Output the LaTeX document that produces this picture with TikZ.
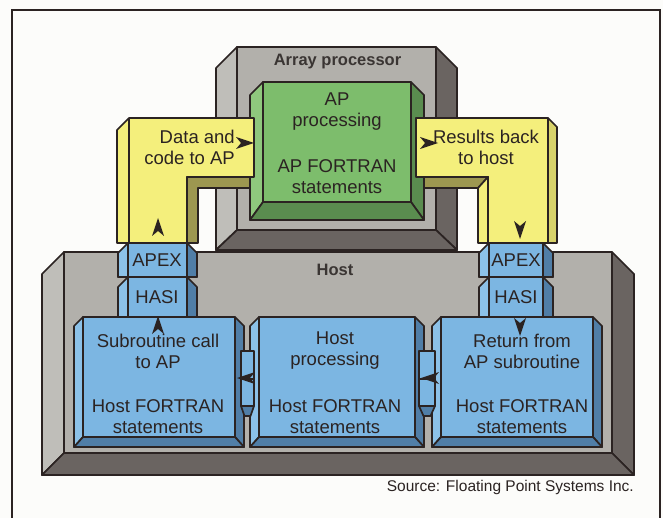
\documentclass[tikz,border=0pt]{standalone}
\usepackage{fontspec}
\setmainfont{Liberation Sans}
\usetikzlibrary{positioning}
\definecolor{fink}{HTML}{2B2322}
\definecolor{fpaper}{HTML}{FCFCFA}
\definecolor{grylite}{HTML}{BFBEB9}
\definecolor{gryface}{HTML}{B2B0AB}
\definecolor{grydark}{HTML}{6A6461}
\definecolor{grnlite}{HTML}{8FC87D}
\definecolor{grnface}{HTML}{7DBD6C}
\definecolor{grndark}{HTML}{5A8C4F}
\definecolor{blulite}{HTML}{8CC1E8}
\definecolor{bluface}{HTML}{7CB6E2}
\definecolor{bludark}{HTML}{507EA7}
\definecolor{ylwface}{HTML}{F4EF7C}
\definecolor{ylwside}{HTML}{D8D26A}
\definecolor{ylwdark}{HTML}{9D9750}
\definecolor{flabel}{HTML}{3A3533}
\tikzset{
  edge/.style={draw=fink,line width=1.7pt,line join=round},
  txt/.style={text=fink,align=center,inner sep=0pt,font=\fontsize{18.5}{21}\selectfont},
  ttl/.style={text=flabel,inner sep=0pt,font=\fontsize{16.5}{19}\selectfont\bfseries},
  src/.style={text=fink,inner sep=0pt,font=\fontsize{15.5}{18}\selectfont},
}
% bevelled slab: x0 y0 x1 y1 side bottom colour
\newcommand{\slab}[7]{%
  \filldraw[edge,fill=#7lite] (#1,#4) -- (#1,{#2+#5}) -- ({#1+#5},#2) -- ({#1+#5},{#4-#6}) -- cycle;
  \filldraw[edge,fill=#7dark] ({#3-#5},#2) -- (#3,{#2+#5}) -- (#3,#4) -- ({#3-#5},{#4-#6}) -- cycle;
  \filldraw[edge,fill=#7dark] (#1,#4) -- ({#1+#5},{#4-#6}) -- ({#3-#5},{#4-#6}) -- (#3,#4) -- cycle;
  \filldraw[edge,fill=#7face] ({#1+#5},#2) rectangle ({#3-#5},{#4-#6});
}
% arrow head: tip x, tip y, direction
\newcommand{\tipmark}[3]{%
  \fill[fink,shift={(#1,#2)},rotate=#3] (0,0) -- (-18,6) -- (-13,0) -- (-18,-6) -- cycle;
}

\begin{document}
\begin{tikzpicture}[x=1pt,y=-1pt]
  \useasboundingbox (0,0) rectangle (663,518);
  \fill[fpaper] (0,0) rectangle (663,518);
  \draw[fink,line width=2pt] (12,518) -- (12,10) -- (660,10) -- (660,518);
  % array processor
  \slab{216}{47}{457}{250}{21}{20}{gry}
  \slab{250}{82}{424}{220}{13}{18}{grn}
  % pipes
  \filldraw[edge,fill=ylwface] (117,243) -- (117,130) -- (129,118) -- (254,118) -- (254,177) -- (187,177) -- (187,243) -- cycle;
  \draw[edge] (129,118) -- (129,243);
  \filldraw[edge,fill=ylwdark] (187,177) -- (250,177) -- (250,188) -- (198,188) -- (198,243) -- (187,243) -- cycle;
  \filldraw[edge,fill=ylwface] (416,118) -- (548,118) -- (548,243) -- (488,243) -- (488,177) -- (416,177) -- cycle;
  \filldraw[edge,fill=ylwside] (548,118) -- (557,127) -- (557,243) -- (548,243) -- cycle;
  \filldraw[edge,fill=ylwdark] (424,177) -- (488,177) -- (478,188) -- (424,188) -- cycle;
  \filldraw[edge,fill=ylwface] (478,188) -- (488,177) -- (488,243) -- (478,243) -- cycle;
  % host
  \slab{42}{252}{634}{475}{22}{22}{gry}
  \slab{118}{243}{197}{277}{10}{0}{blu}
  \slab{118}{277}{197}{317}{10}{0}{blu}
  \slab{479}{243}{553}{277}{10}{0}{blu}
  \slab{479}{277}{553}{317}{10}{0}{blu}
  \slab{74}{317}{244}{447}{9}{10}{blu}
  \slab{250}{317}{424}{447}{9}{10}{blu}
  \slab{432}{317}{602}{447}{9}{10}{blu}
  % links between host boxes
  \filldraw[edge,fill=bluface] (241,351) rectangle (254,406);
  \draw[edge] (241,379) -- (254,379);
  \filldraw[edge,fill=bludark] (241,406) -- (244.5,416) -- (250.5,416) -- (254,406) -- cycle;
  \filldraw[edge,fill=bluface] (419,351) rectangle (435,406);
  \draw[edge] (419,379) -- (435,379);
  \filldraw[edge,fill=bludark] (419,406) -- (423.5,416) -- (430.5,416) -- (435,406) -- cycle;
  % arrow heads
  \tipmark{254}{143}{0}
  \tipmark{158}{218}{90}
  \tipmark{158}{316}{90}
  \tipmark{438}{143}{0}
  \tipmark{520}{239}{270}
  \tipmark{520}{336}{270}
  \tipmark{237}{378}{180}
  \tipmark{421}{378}{180}
  % labels
  \node[ttl] (aptl) at (337.5,62) {Array processor};
  \node[txt] (apdo) at (337,112) {AP\\processing};
  \node[txt] (apst) at (337,177) {AP FORTRAN\\statements};
  \node[txt,align=right,anchor=east] (dta) at (235,147) {Data and\\code to AP};
  \node[txt] (res) at (486,147) {Results back\\to host};
  \node[ttl] (hstl) at (335,270) {Host};
  \node[txt] (apx1) at (157,260) {APEX};
  \node[txt] (hsi1) at (157,297) {HASI};
  \node[txt] (apx2) at (516,260) {APEX};
  \node[txt] (hsi2) at (516,297) {HASI};
  \node[txt] (sub) at (158,351) {Subroutine call\\to AP};
  \node[txt] (subst) at (158,417) {Host FORTRAN\\statements};
  \node[txt] (hdo) at (335,351) {Host\\processing};
  \node[txt] (hdost) at (335,417) {Host FORTRAN\\statements};
  \node[txt] (ret) at (522,351) {Return from\\AP subroutine};
  \node[txt] (retst) at (522,417) {Host FORTRAN\\statements};
  \node[src,anchor=east] (srcl) at (634,487) {Source: Floating Point Systems Inc.};
\end{tikzpicture}
\end{document}
